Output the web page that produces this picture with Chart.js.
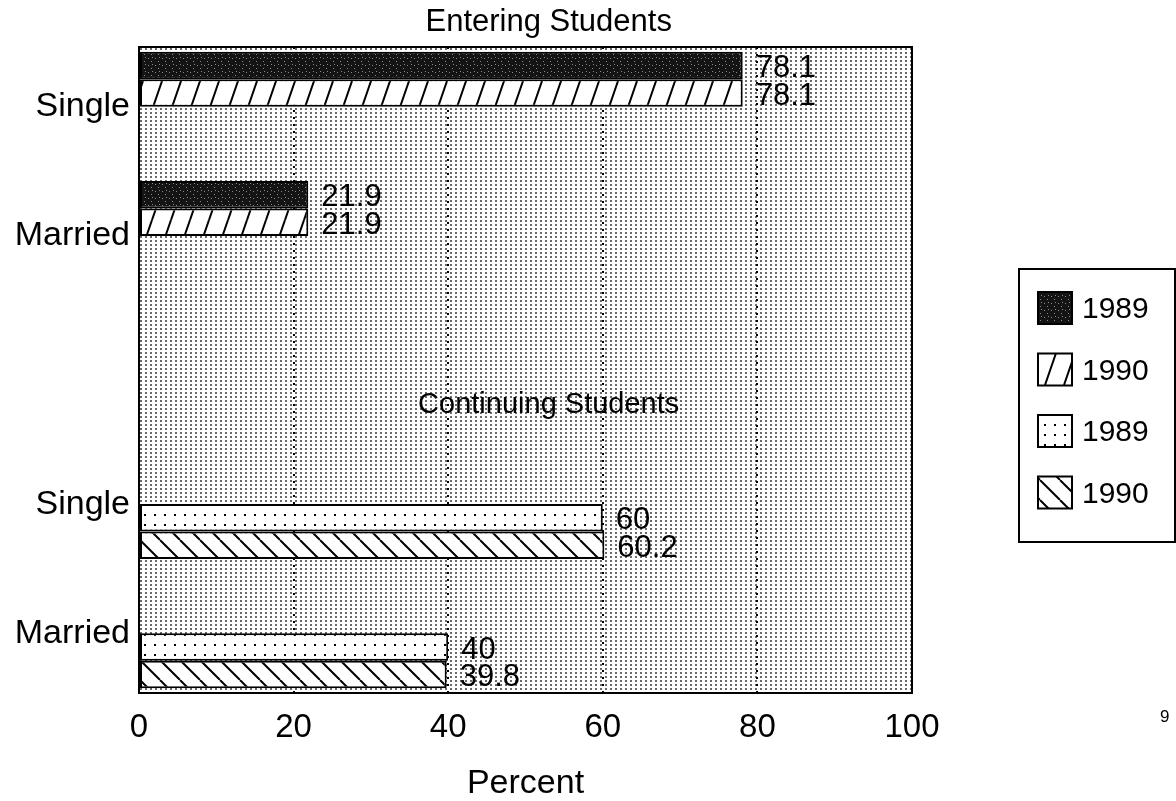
<!DOCTYPE html>
<html>
<head>
<meta charset="utf-8">
<title>Entering Students - Continuing Students</title>
<script src="https://cdn.jsdelivr.net/npm/chart.js@4.4.1/dist/chart.umd.min.js"></script>
<style>
    html, body { margin:0; padding:0; background:#fff; }
    canvas { display:block; }
</style>
</head>
<body>
<canvas id="graficoEstudiantes" width="1176" height="801"></canvas>
<script>
// Datos
const grupos = ["Entering Students", "Continuing Students"];
const categorias = ["Single", "Married"];
const anios = ["1989", "1990"];
const entrantes1989 = [78.1, 21.9];
const entrantes1990 = [78.1, 21.9];
const continuos1989 = [60, 40];
const continuos1990 = [60.2, 39.8];
const ticksX = [0, 20, 40, 60, 80, 100];
const tituloX = "Percent";
const pagina = "9";

const FUENTE = "'Liberation Sans', Arial, Helvetica, sans-serif";

// filas del eje vertical (10 filas, el hueco del medio lleva el segundo título)
const totalFilas = 10;
const filasEntrantes = [0, 2];
const filasContinuos = [7, 9];
const filaTitulo2 = 5;

const etiquetas = new Array(totalFilas).fill("");
filasEntrantes.forEach((f, i) => etiquetas[f] = ["", categorias[i]]);
filasContinuos.forEach((f, i) => etiquetas[f] = [categorias[i], ""]);

function serie(valores, filas) {
    const d = new Array(totalFilas).fill(null);
    filas.forEach((f, i) => d[f] = valores[i]);
    return d;
}

// Tramas
function patron(tipo) {
    const c = document.createElement("canvas");
    const g = c.getContext("2d");
    let w = 10, h = 10;

    if (tipo === "fondo") { w = 5; h = 4; }
    if (tipo === "oscuro") { w = 7; h = 7; }
    if (tipo === "barra") { w = 19; h = 55; }
    if (tipo === "contra") { w = 20; h = 20; }

    c.width = w;
    c.height = h;
    g.fillStyle = "#fff";
    g.fillRect(0, 0, w, h);

    if (tipo === "fondo") {
        g.fillStyle = "#6a6a6a";
        g.fillRect(0, 0, 2, 2);
    }
    if (tipo === "oscuro") {
        g.fillStyle = "#141414";
        g.fillRect(0, 0, w, h);
        g.fillStyle = "#8a8a8a";
        g.fillRect(1, 2, 1, 1);
        g.fillRect(4, 5, 1, 1);
        g.fillRect(5, 1, 1, 1);
    }
    if (tipo === "puntos") {
        g.fillStyle = "#000";
        g.fillRect(4, 4, 2, 2);
    }
    if (tipo === "barra" || tipo === "contra") {
        g.strokeStyle = "#000";
        g.lineWidth = 2;
        g.beginPath();
        for (let k = -1; k <= 1; k++) {
            if (tipo === "barra") {
                g.moveTo(k * w, h);
                g.lineTo(k * w + w, 0);
            } else {
                g.moveTo(k * w, 0);
                g.lineTo(k * w + w, h);
            }
        }
        g.stroke();
    }
    return g.createPattern(c, "repeat");
}

const rellenos = {
    fondo: patron("fondo"),
    oscuro: patron("oscuro"),
    barra: patron("barra"),
    puntos: patron("puntos"),
    contra: patron("contra")
};

function conjunto(etiqueta, datos, relleno) {
    return {
        label: etiqueta,
        data: datos,
        backgroundColor: relleno,
        borderColor: "#000",
        borderWidth: 2,
        borderSkipped: false,
        categoryPercentage: 0.85,
        barPercentage: 1,
        skipNull: true
    };
}

// Fondo, valores, marco, títulos y leyenda
const extras = {
    id: "extras",

    beforeDraw(chart) {
        const { ctx, chartArea: a } = chart;
        ctx.save();
        ctx.fillStyle = rellenos.fondo;
        ctx.fillRect(a.left, a.top, a.width, a.height);
        ctx.restore();
    },

    afterDatasetsDraw(chart) {
        const ctx = chart.ctx;
        ctx.save();
        ctx.fillStyle = "#000";
        ctx.font = "31px " + FUENTE;
        ctx.textAlign = "left";
        ctx.textBaseline = "middle";
        chart.data.datasets.forEach((ds, i) => {
            chart.getDatasetMeta(i).data.forEach((barra, j) => {
                const v = ds.data[j];
                if (v === null) return;
                ctx.fillText(String(v), barra.x + 13, barra.y + 3);
            });
        });
        ctx.restore();
    },

    afterDraw(chart) {
        const { ctx, chartArea: a } = chart;
        const x = chart.scales.x;
        const y = chart.scales.y;

        ctx.save();
        // marco del gráfico
        ctx.strokeStyle = "#000";
        ctx.lineWidth = 2;
        ctx.strokeRect(a.left, a.top, a.width, a.height);

        // títulos de grupo
        ctx.fillStyle = "#000";
        ctx.textAlign = "center";
        ctx.textBaseline = "middle";
        ctx.font = "31px " + FUENTE;
        ctx.fillText(grupos[0], x.getPixelForValue(53), a.top - 25);
        ctx.font = "29px " + FUENTE;
        ctx.fillText(grupos[1], x.getPixelForValue(53), y.getPixelForValue(filaTitulo2) + 3);

        // leyenda
        ctx.strokeRect(1019, 269, 156, 273);
        ctx.textAlign = "left";
        ctx.font = "30px " + FUENTE;
        chart.data.datasets.forEach((ds, i) => {
            const top = 292 + i * 61.5;
            ctx.fillStyle = ds.backgroundColor;
            ctx.fillRect(1038, top, 34, 32);
            ctx.strokeRect(1038, top, 34, 32);
            ctx.fillStyle = "#000";
            ctx.fillText(ds.label, 1082, top + 18);
        });

        // número de página
        ctx.font = "17px " + FUENTE;
        ctx.fillText(pagina, 1160, 717);
        ctx.restore();
    }
};

const ctx = document.getElementById("graficoEstudiantes");

const grafico = new Chart(ctx, {
    type: "bar",
    data: {
        labels: etiquetas,
        datasets: [
            conjunto(anios[0], serie(entrantes1989, filasEntrantes), rellenos.oscuro),
            conjunto(anios[1], serie(entrantes1990, filasEntrantes), rellenos.barra),
            conjunto(anios[0], serie(continuos1989, filasContinuos), rellenos.puntos),
            conjunto(anios[1], serie(continuos1990, filasContinuos), rellenos.contra)
        ]
    },
    options: {
        indexAxis: "y",
        responsive: false,
        animation: false,
        layout: {
            padding: { top: 47, right: 264, bottom: 0, left: 0 }
        },
        plugins: {
            legend: { display: false },
            tooltip: { enabled: false }
        },
        scales: {
            x: {
                type: "linear",
                min: 0,
                max: 100,
                afterBuildTicks: (eje) => {
                    eje.ticks = ticksX.map(v => ({ value: v }));
                },
                afterFit: (eje) => {
                    eje.height = 108;
                    eje.paddingLeft = 0;
                    eje.paddingRight = 0;
                },
                grid: {
                    color: (c) => (c.tick && (c.tick.value === 0 || c.tick.value === 100)) ? "rgba(0,0,0,0)" : "#000",
                    lineWidth: 2,
                    drawTicks: false
                },
                border: { display: false, dash: [2, 5] },
                ticks: {
                    color: "#000",
                    font: { family: FUENTE, size: 33 },
                    padding: 15
                },
                title: {
                    display: true,
                    text: tituloX,
                    color: "#000",
                    font: { family: FUENTE, size: 34, lineHeight: 1 },
                    padding: 0
                }
            },
            y: {
                afterFit: (eje) => {
                    eje.width = 139;
                    eje.paddingTop = 0;
                    eje.paddingBottom = 0;
                },
                grid: { display: false, drawTicks: false },
                border: { display: false },
                ticks: {
                    color: "#000",
                    font: { family: FUENTE, size: 34, lineHeight: 1.6 },
                    padding: 9,
                    autoSkip: false
                }
            }
        }
    },
    plugins: [extras]
});
</script>
</body>
</html>
